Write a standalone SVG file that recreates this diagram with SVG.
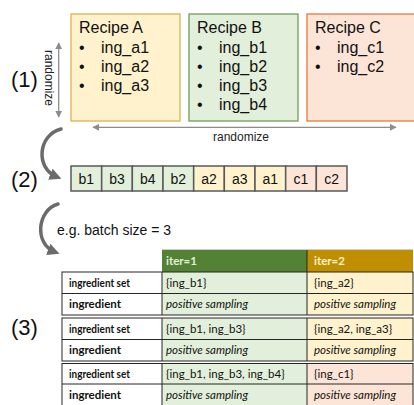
<svg xmlns="http://www.w3.org/2000/svg" width="414" height="405" viewBox="0 0 414 405">
  <style>
    .lbl { font-family: "Liberation Sans", Arial, sans-serif; fill: #111; }
    .step { font-family: "Liberation Sans", Arial, sans-serif; font-size: 22px; fill: #111; }
    .rec { font-size: 16px; }
    .small { font-family: "Liberation Sans", Arial, sans-serif; font-size: 12px; fill: #222; }
    .cell { font-family: "Liberation Sans", Arial, sans-serif; font-size: 14px; fill: #111; text-anchor: middle; }
    .seq { stroke: #595959; stroke-width: 1.5; }
    .tb { font-family: Lato, "Liberation Sans", sans-serif; font-size: 11.5px; fill: #111; }
    .tb-b { font-weight: bold; }
    .tb-i { font-style: italic; }
    .hdr { font-family: Lato, "Liberation Sans", sans-serif; font-size: 11.5px; font-weight: bold; }
    .grid { stroke: #262626; stroke-width: 1; }
    .green { fill: #E2EFDA; }
    .yellow { fill: #FFF2CC; }
    .pink { fill: #FCE4D6; }
    .thin { stroke: #8c8c8c; stroke-width: 1.3; fill: none; }
    .bend { stroke: #6b6b6b; stroke-width: 3.5; fill: none; stroke-linecap: round; }
  </style>
  <defs>
    <marker id="tip" viewBox="0 0 10 10" refX="9" refY="5" markerWidth="7" markerHeight="7" markerUnits="userSpaceOnUse" orient="auto-start-reverse">
      <path d="M0,0 L10,5 L0,10 z" fill="#8c8c8c"/>
    </marker>
    <marker id="bigtip" viewBox="0 0 10 10" refX="6" refY="5" markerWidth="12" markerHeight="12" markerUnits="userSpaceOnUse" orient="auto">
      <path d="M0,0 L10,5 L0,10 z" fill="#6b6b6b"/>
    </marker>
  </defs>

  <!-- step labels -->
  <text class="step" x="11" y="87">(1)</text>
  <text class="step" x="11" y="187">(2)</text>
  <text class="step" x="11" y="335">(3)</text>

  <!-- recipes -->
  <g id="recipe-a">
    <rect x="71" y="14" width="109" height="107" fill="#FFF2CC" stroke="#D9B44A" stroke-width="1.3"/>
    <text class="lbl rec" x="79" y="33">Recipe A</text>
    <text class="lbl rec" x="79" y="53">•</text><text class="lbl rec" x="101" y="53">ing_a1</text>
    <text class="lbl rec" x="79" y="72">•</text><text class="lbl rec" x="101" y="72">ing_a2</text>
    <text class="lbl rec" x="79" y="91">•</text><text class="lbl rec" x="101" y="91">ing_a3</text>
  </g>
  <g id="recipe-b">
    <rect x="189" y="14" width="109" height="107" fill="#E2EFDA" stroke="#6FA053" stroke-width="1.3"/>
    <text class="lbl rec" x="197" y="33">Recipe B</text>
    <text class="lbl rec" x="197" y="53">•</text><text class="lbl rec" x="219" y="53">ing_b1</text>
    <text class="lbl rec" x="197" y="72">•</text><text class="lbl rec" x="219" y="72">ing_b2</text>
    <text class="lbl rec" x="197" y="91">•</text><text class="lbl rec" x="219" y="91">ing_b3</text>
    <text class="lbl rec" x="197" y="110">•</text><text class="lbl rec" x="219" y="110">ing_b4</text>
  </g>
  <g id="recipe-c">
    <rect x="307" y="14" width="120" height="107" fill="#FCE4D6" stroke="#E07B3C" stroke-width="1.3"/>
    <text class="lbl rec" x="315" y="33">Recipe C</text>
    <text class="lbl rec" x="315" y="53">•</text><text class="lbl rec" x="337" y="53">ing_c1</text>
    <text class="lbl rec" x="315" y="72">•</text><text class="lbl rec" x="337" y="72">ing_c2</text>
  </g>

  <!-- shuffled sequence -->
  <g id="sequence">
    <rect class="seq green" x="71" y="166" width="30.67" height="25"/>
    <rect class="seq green" x="101.67" y="166" width="30.67" height="25"/>
    <rect class="seq green" x="132.33" y="166" width="30.67" height="25"/>
    <rect class="seq green" x="163" y="166" width="30.67" height="25"/>
    <rect class="seq yellow" x="193.67" y="166" width="30.67" height="25"/>
    <rect class="seq yellow" x="224.33" y="166" width="30.67" height="25"/>
    <rect class="seq yellow" x="255" y="166" width="30.67" height="25"/>
    <rect class="seq pink" x="285.67" y="166" width="30.67" height="25"/>
    <rect class="seq pink" x="316.33" y="166" width="30.67" height="25"/>
    <text class="cell" x="86.3" y="184">b1</text>
    <text class="cell" x="117" y="184">b3</text>
    <text class="cell" x="147.7" y="184">b4</text>
    <text class="cell" x="178.3" y="184">b2</text>
    <text class="cell" x="209" y="184">a2</text>
    <text class="cell" x="239.7" y="184">a3</text>
    <text class="cell" x="270.3" y="184">a1</text>
    <text class="cell" x="301" y="184">c1</text>
    <text class="cell" x="331.7" y="184">c2</text>
  </g>

  <!-- connectors -->
  <g id="connectors">
    <line class="thin" x1="58.7" y1="43" x2="58.7" y2="117" marker-start="url(#tip)" marker-end="url(#tip)"/>
    <line class="thin" x1="93" y1="127.3" x2="396" y2="127.3" marker-start="url(#tip)" marker-end="url(#tip)"/>
    <path class="bend" d="M61,129 C38,135 35,168 57,177" marker-end="url(#bigtip)"/>
    <path class="bend" d="M58,204 C37,210 34,244 55,252" marker-end="url(#bigtip)"/>
  </g>
  <text class="small" transform="translate(45,50) rotate(90)">randomize</text>
  <text class="small" x="241" y="141" text-anchor="middle">randomize</text>
  <text class="lbl" x="57" y="235" font-size="14">e.g. batch size = 3</text>

  <!-- batch table -->
  <g id="table">
    <line x1="162" y1="250" x2="413" y2="250" stroke="#9a9a9a" stroke-width="1"/>
    <rect x="162" y="250" width="145" height="22" fill="#548235"/>
    <rect x="307" y="250" width="106" height="22" fill="#BF8F00"/>
    <line x1="307" y1="250" x2="307" y2="272" stroke="#262626"/>
    <text class="hdr" x="166" y="265" fill="#E2EFDA">iter=1</text>
    <text class="hdr" x="314" y="265" fill="#FFF2CC">iter=2</text>

    <g id="batch-1">
      <rect x="62" y="272" width="100" height="43" fill="#fff"/>
      <rect class="green" x="162" y="272" width="145" height="43"/>
      <rect class="yellow" x="307" y="272" width="106" height="43"/>
      <rect x="62" y="272" width="351" height="43" fill="none" class="grid"/>
      <line class="grid" x1="62" y1="293.5" x2="413" y2="293.5"/>
      <line class="grid" x1="162" y1="272" x2="162" y2="315"/>
      <line class="grid" x1="307" y1="272" x2="307" y2="315"/>
      <text class="tb tb-b" x="69" y="287" textLength="61" lengthAdjust="spacingAndGlyphs">ingredient set</text>
      <text class="tb tb-b" x="69" y="308" textLength="52" lengthAdjust="spacingAndGlyphs">ingredient</text>
      <text class="tb" x="166" y="287">{ing_b1}</text>
      <text class="tb tb-i" x="166" y="308">positive sampling</text>
      <text class="tb" x="314" y="287">{ing_a2}</text>
      <text class="tb tb-i" x="314" y="308">positive sampling</text>
    </g>

    <g id="batch-2">
      <rect x="62" y="318" width="100" height="43" fill="#fff"/>
      <rect class="green" x="162" y="318" width="145" height="43"/>
      <rect class="yellow" x="307" y="318" width="106" height="43"/>
      <rect x="62" y="318" width="351" height="43" fill="none" class="grid"/>
      <line class="grid" x1="62" y1="339.5" x2="413" y2="339.5"/>
      <line class="grid" x1="162" y1="318" x2="162" y2="361"/>
      <line class="grid" x1="307" y1="318" x2="307" y2="361"/>
      <text class="tb tb-b" x="69" y="333" textLength="61" lengthAdjust="spacingAndGlyphs">ingredient set</text>
      <text class="tb tb-b" x="69" y="354" textLength="52" lengthAdjust="spacingAndGlyphs">ingredient</text>
      <text class="tb" x="166" y="333">{ing_b1, ing_b3}</text>
      <text class="tb tb-i" x="166" y="354">positive sampling</text>
      <text class="tb" x="314" y="333">{ing_a2, ing_a3}</text>
      <text class="tb tb-i" x="314" y="354">positive sampling</text>
    </g>

    <g id="batch-3">
      <rect x="62" y="363.5" width="100" height="42" fill="#fff"/>
      <rect class="green" x="162" y="363.5" width="145" height="42"/>
      <rect class="pink" x="307" y="363.5" width="106" height="42"/>
      <rect x="62" y="363.5" width="351" height="42" fill="none" class="grid"/>
      <line class="grid" x1="62" y1="384" x2="413" y2="384"/>
      <line class="grid" x1="162" y1="363.5" x2="162" y2="405"/>
      <line class="grid" x1="307" y1="363.5" x2="307" y2="405"/>
      <text class="tb tb-b" x="69" y="378" textLength="61" lengthAdjust="spacingAndGlyphs">ingredient set</text>
      <text class="tb tb-b" x="69" y="399" textLength="52" lengthAdjust="spacingAndGlyphs">ingredient</text>
      <text class="tb" x="166" y="378">{ing_b1, ing_b3, ing_b4}</text>
      <text class="tb tb-i" x="166" y="399">positive sampling</text>
      <text class="tb" x="314" y="378">{ing_c1}</text>
      <text class="tb tb-i" x="314" y="399">positive sampling</text>
    </g>
  </g>
</svg>
